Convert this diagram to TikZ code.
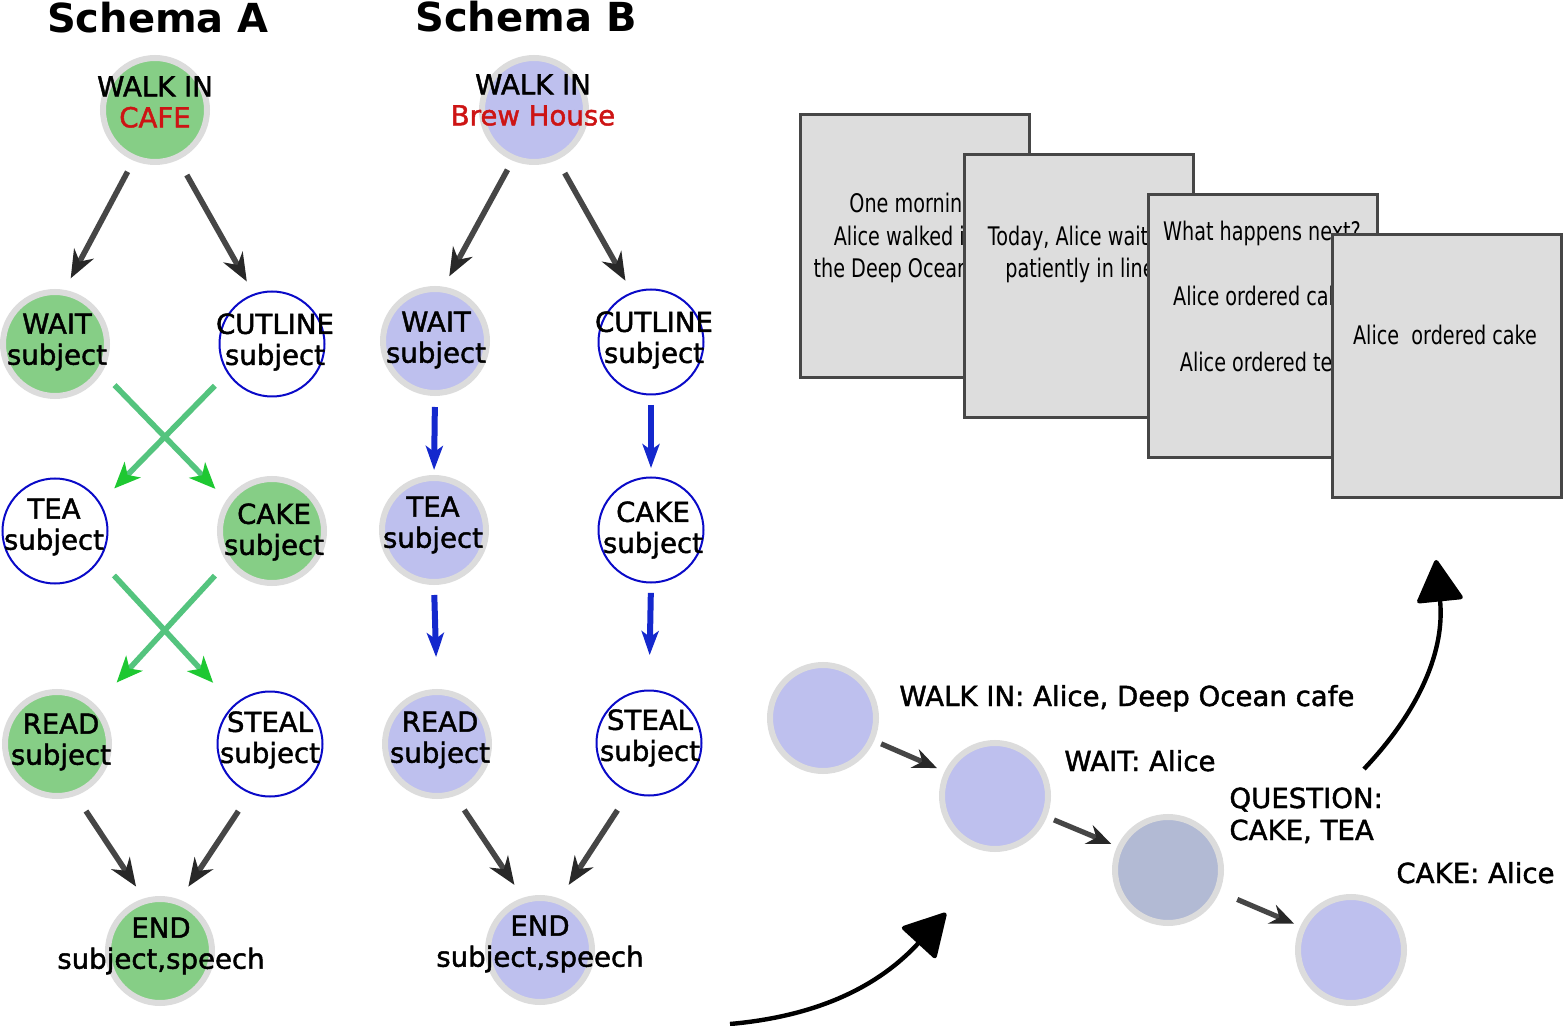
\documentclass[tikz,border=0pt]{standalone}
\usepackage{fontspec}
\setmainfont{DejaVu Sans}
\newfontfamily\cardfont{DejaVu Sans}[FakeStretch=0.75]
\newfontfamily\heavyfont{DejaVu Sans}[FakeBold=1.6]
\usetikzlibrary{arrows.meta}
\definecolor{gfill}{RGB}{134,206,134}
\definecolor{bfill}{RGB}{190,192,238}
\definecolor{qfill}{RGB}{178,186,212}
\definecolor{ringc}{RGB}{220,220,220}
\definecolor{oblue}{RGB}{10,10,200}
\definecolor{darrc}{RGB}{70,70,70}
\definecolor{dheadc}{RGB}{40,40,40}
\definecolor{garrc}{RGB}{84,196,126}
\definecolor{gheadc}{RGB}{30,200,50}
\definecolor{barrc}{RGB}{20,40,205}
\definecolor{rtxt}{RGB}{205,20,20}
\definecolor{cardfill}{RGB}{221,221,221}
\definecolor{cardline}{RGB}{70,70,70}
\tikzset{
  ringnode/.style={circle, draw=ringc, line width=3pt, minimum size=52pt, inner sep=0pt},
  gnode/.style={ringnode, fill=gfill},
  bnode/.style={ringnode, fill=bfill},
  qnode/.style={ringnode, fill=qfill},
  seqnode/.style={ringnode, fill=bfill, minimum size=53pt},
  onode/.style={circle, draw=oblue, fill=white, line width=1pt, minimum size=52.5pt, inner sep=0pt},
  ntxt/.style={align=center, inner sep=0pt, font=\heavyfont\fontsize{13.8pt}{15.5pt}\selectfont},
  ltxt/.style={anchor=base west, inner sep=0pt, font=\heavyfont\fontsize{13.8pt}{15.5pt}\selectfont},
  ttl/.style={anchor=base, inner sep=0pt, font=\bfseries\fontsize{20pt}{24pt}\selectfont},
  card/.style={rectangle, draw=cardline, fill=cardfill, line width=1.5pt, minimum width=114.5pt, minimum height=131.5pt, inner sep=0pt},
  ctxt/.style={anchor=base, inner sep=0pt, font=\cardfont\fontsize{12.8pt}{15pt}\selectfont},
  darrow/.style={draw=darrc, line width=2.8pt, -{Stealth[length=14pt,width=11pt,inset=4.5pt,fill=dheadc,color=dheadc]}},
  sarrow/.style={draw=darrc, line width=2.6pt, -{Stealth[length=12pt,width=10pt,inset=4pt,fill=dheadc,color=dheadc]}},
  garrow/.style={draw=garrc, line width=2.8pt, -{Stealth[length=13pt,width=11pt,inset=3.5pt,color=gheadc]}},
  barrow/.style={draw=barrc, line width=3pt, -{Stealth[length=12pt,width=8.5pt,inset=3pt]}},
  bigarrow/.style={draw=black, line width=2.2pt, -{Triangle[length=22pt,width=24pt,round]}},
}
\begin{document}
\begin{tikzpicture}[x=0.5pt,y=-0.5pt]
\useasboundingbox (0,0) rectangle (1564,1026);

% titles
\node[ttl] (titleA) at (158,33) {Schema A};
\node[ttl] (titleB) at (526,32) {Schema B};

% Schema A nodes
\node[gnode] (aWalk) at (155,110) {};
\node[gnode] (aWait) at (55,344) {};
\node[onode] (aCut) at (272,344) {};
\node[onode] (aTea) at (55,531) {};
\node[gnode] (aCake) at (272,531) {};
\node[gnode] (aRead) at (57,744) {};
\node[onode] (aSteal) at (270,744) {};
\node[gnode] (aEnd) at (160,951) {};

\node[ntxt] (taWalk) at (155,102) {WALK IN\\\textcolor{rtxt}{CAFE}};
\node[ntxt] (taWait) at (57,342) {WAIT\\subject};
\node[ntxt] (taCut) at (275,342) {CUTLINE\\subject};
\node[ntxt] (taTea) at (54,527) {TEA\\subject};
\node[ntxt] (taCake) at (274,532) {CAKE\\subject};
\node[ntxt] (taRead) at (61,742) {READ\\subject};
\node[ntxt] (taSteal) at (270,740) {STEAL\\subject};
\node[ntxt] (taEnd) at (161,946) {END\\subject,speech};

% Schema A connectors
\draw[darrow, shorten <=6.3pt, shorten >=6.5pt] (aWalk.-113.5) -- (aWait.80.7);
\draw[darrow, shorten <=8.7pt, shorten >=7pt] (aWalk.-65.6) -- (aCut.110.9);
\draw[garrow, shorten <=8.9pt, shorten >=7.9pt] (aWait.-31.5) -- (aCake.146.5);
\draw[garrow, shorten <=8.8pt, shorten >=9.9pt] (aCut.-147.7) -- (aTea.32.2);
\draw[garrow, shorten <=10.4pt, shorten >=15pt] (aTea.-33.5) -- (aSteal.133.1);
\draw[garrow, shorten <=8.9pt, shorten >=15.3pt] (aCake.-145.7) -- (aRead.45.5);
\draw[darrow, shorten <=9.2pt, shorten >=7.1pt] (aRead.-70.1) -- (aEnd.107.6);
\draw[darrow, shorten <=10.5pt, shorten >=7.8pt] (aSteal.-112.1) -- (aEnd.69.3);

% Schema B nodes
\node[bnode] (bWalk) at (534,110) {};
\node[bnode] (bWait) at (435,341) {};
\node[onode] (bCut) at (651,342) {};
\node[bnode] (bTea) at (434,530) {};
\node[onode] (bCake) at (651,530) {};
\node[bnode] (bRead) at (437,744) {};
\node[onode] (bSteal) at (649,743) {};
\node[bnode] (bEnd) at (540,950) {};

\node[ntxt] (tbWalk) at (533,100) {WALK IN\\\textcolor{rtxt}{Brew House}};
\node[ntxt] (tbWait) at (436,340) {WAIT\\subject};
\node[ntxt] (tbCut) at (654,340) {CUTLINE\\subject};
\node[ntxt] (tbTea) at (433,525) {TEA\\subject};
\node[ntxt] (tbCake) at (653,530) {CAKE\\subject};
\node[ntxt] (tbRead) at (440,740) {READ\\subject};
\node[ntxt] (tbSteal) at (650,738) {STEAL\\subject};
\node[ntxt] (tbEnd) at (540,944) {END\\subject,speech};

% Schema B connectors
\draw[darrow, shorten <=5.2pt, shorten >=5.9pt] (bWalk.-113.4) -- (bWait.81.4);
\draw[darrow, shorten <=7.6pt, shorten >=6.5pt] (bWalk.-65.6) -- (bCut.111.2);
\draw[barrow, shorten <=5.5pt, shorten >=2.5pt] (bWait.south) -- (bTea.north);
\draw[barrow, shorten <=4.7pt, shorten >=4.2pt] (bCut.south) -- (bCake.north);
\draw[barrow, shorten <=5pt, shorten >=16pt] (bTea.south) -- (bRead.north);
\draw[barrow, shorten <=4.7pt, shorten >=17.2pt] (bCake.south) -- (bSteal.north);
\draw[darrow, shorten <=8.4pt, shorten >=7.7pt] (bRead.-71.3) -- (bEnd.108.2);
\draw[darrow, shorten <=10.5pt, shorten >=8.2pt] (bSteal.-112.1) -- (bEnd.69.5);

% cards
\node[card] (card1) at (915,246) {};
\node[ctxt] (c1a) at (915,213) {One morning,};
\node[ctxt] (c1b) at (915,246) {Alice walked into};
\node[ctxt] (c1c) at (915,278) {the Deep Ocean cafe};
\node[card] (card2) at (1079,286) {};
\node[ctxt] (c2a) at (1080,246) {Today, Alice waited};
\node[ctxt] (c2b) at (1080,278) {patiently in line};
\node[card] (card3) at (1263,326) {};
\node[ctxt] (c3a) at (1262,241) {What happens next?};
\node[ctxt] (c3b) at (1262,306) {Alice ordered cake};
\node[ctxt] (c3c) at (1262,372) {Alice ordered tea};
\node[card] (card4) at (1447,366) {};
\node[ctxt] (c4a) at (1445,345) {Alice~ ordered cake};

% sequence
\node[seqnode] (s1) at (823,718) {};
\node[seqnode] (s2) at (995,796) {};
\node[seqnode, fill=qfill] (s3) at (1168,870) {};
\node[seqnode] (s4) at (1351,950) {};

\node[ltxt] (l1) at (899,706) {WALK IN: Alice, Deep Ocean cafe};
\node[ltxt] (l2) at (1064,771) {WAIT: Alice};
\node[ltxt] (l3a) at (1229,808) {QUESTION:};
\node[ltxt] (l3b) at (1229,840) {CAKE, TEA};
\node[ltxt] (l4) at (1396,883) {CAKE: Alice};

\draw[sarrow, shorten <=3.8pt, shorten >=4.2pt] (s1.-24.1) -- (s2.154.2);
\draw[sarrow, shorten <=3.8pt, shorten >=3.3pt] (s2.-22.1) -- (s3.155.5);
\draw[sarrow, shorten <=9.6pt, shorten >=3.3pt] (s3.-23.5) -- (s4.155.5);

% big curved arrows
\coordinate (bigAs) at (730,1024);
\coordinate (bigAe) at (946,913);
\coordinate (bigBs) at (1364,769);
\coordinate (bigBe) at (1436,560);
\draw[bigarrow] (bigAs) .. controls (820,1016) and (880,985) .. (bigAe);
\draw[bigarrow] (bigBs) .. controls (1420,710) and (1445,650) .. (bigBe);
\end{tikzpicture}
\end{document}
